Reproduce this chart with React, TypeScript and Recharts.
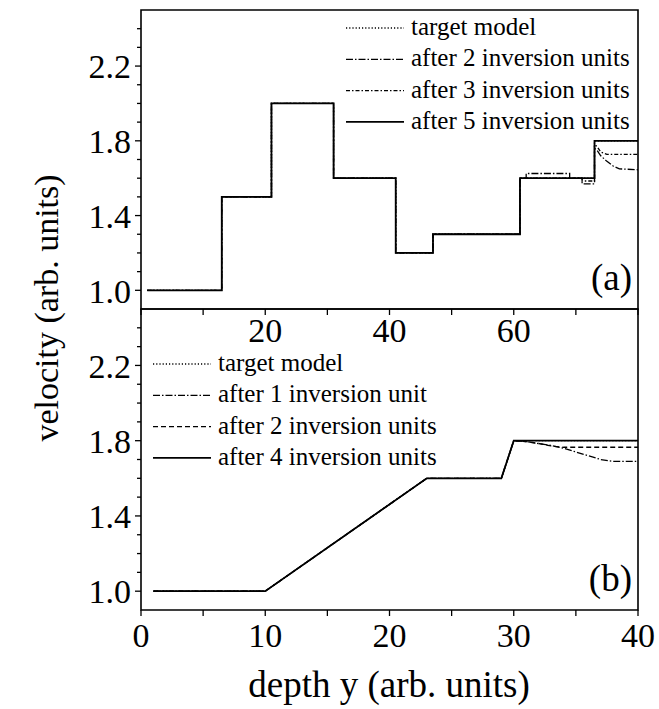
import React from "react";
import { LineChart, Line, XAxis, YAxis, ReferenceArea, Label, Legend } from "recharts";

// panel (a): step model, depth 0..80
const edgesA = [1, 13, 21, 31, 41, 47, 61, 73, 80];
const levelsA = [1.0, 1.5, 2.0, 1.6, 1.2, 1.3, 1.6, 1.8];

const depthA2 = [1, 13, 13, 21, 21, 31, 31, 41, 41, 47, 47, 61, 61, 62, 62, 69, 69, 71, 71, 73, 73, 73.4, 74, 75, 76, 77, 80];
const velA2 = [1.0, 1.0, 1.5, 1.5, 2.0, 2.0, 1.6, 1.6, 1.2, 1.2, 1.3, 1.3, 1.6, 1.6, 1.625, 1.625, 1.6, 1.6, 1.57, 1.57, 1.76, 1.75, 1.72, 1.69, 1.665, 1.65, 1.645];

const depthA3 = [1, 13, 13, 21, 21, 31, 31, 41, 41, 47, 47, 61, 61, 71, 71, 73, 73, 73.4, 74, 75, 80];
const velA3 = [1.0, 1.0, 1.5, 1.5, 2.0, 2.0, 1.6, 1.6, 1.2, 1.2, 1.3, 1.3, 1.6, 1.6, 1.585, 1.585, 1.78, 1.77, 1.74, 1.727, 1.727];

// panel (b): ramp model, depth 0..40
const depthB = [1, 10, 23, 29, 30, 40];
const targetB = [1.0, 1.0, 1.6, 1.6, 1.8, 1.8];

const depthB1 = [1, 10, 23, 29, 30, 31, 32, 33, 34, 35, 36, 37, 38, 40];
const velB1 = [1.0, 1.0, 1.6, 1.6, 1.8, 1.795, 1.785, 1.775, 1.76, 1.74, 1.72, 1.7, 1.69, 1.69];

const depthB2 = [1, 10, 23, 29, 30, 31, 32, 33, 34, 40];
const velB2 = [1.0, 1.0, 1.6, 1.6, 1.8, 1.795, 1.785, 1.772, 1.765, 1.765];

const yTicks = [1.0, 1.1, 1.2, 1.3, 1.4, 1.5, 1.6, 1.7, 1.8, 1.9, 2.0, 2.1, 2.2, 2.3, 2.4];
const yLabels = [1.0, 1.4, 1.8, 2.2];
const xTicksA = [0, 10, 20, 30, 40, 50, 60, 70, 80];
const xLabelsA = [20, 40, 60];
const xTicksB = [0, 5, 10, 15, 20, 25, 30, 35, 40];
const xLabelsB = [0, 10, 20, 30, 40];

const legendA = ["target model", "after 2 inversion units", "after 3 inversion units", "after 5 inversion units"];
const legendB = ["target model", "after 1 inversion unit", "after 2 inversion units", "after 4 inversion units"];

const font = "'Liberation Serif', 'Times New Roman', serif";

const stepPoints = (edges: number[], levels: number[]) => {
  const pts: { x: number; v: number }[] = [];
  levels.forEach((lv, i) => {
    pts.push({ x: edges[i], v: lv });
    pts.push({ x: edges[i + 1], v: lv });
  });
  return pts;
};
const zip = (xs: number[], vs: number[]) => xs.map((x, i) => ({ x, v: vs[i] }));

const dataA0 = stepPoints(edgesA, levelsA);
const dataA2 = zip(depthA2, velA2);
const dataA3 = zip(depthA3, velA3);
const dataB0 = zip(depthB, targetB);
const dataB1 = zip(depthB1, velB1);
const dataB2 = zip(depthB2, velB2);

const near = (list: number[], v: number) => list.some((l) => Math.abs(l - v) < 1e-6);

const YTick = (props: any) => {
  const { x, y, payload } = props;
  const lab = near(yLabels, payload.value);
  return (
    <g>
      <line x1={x} x2={x - (lab ? 6 : 4)} y1={y} y2={y} stroke="#000" strokeWidth={1.3} />
      {lab && (
        <text x={x - 10} y={y} dy="0.36em" textAnchor="end" fontSize={34} fontFamily={font} fill="#000">
          {payload.value.toFixed(1)}
        </text>
      )}
    </g>
  );
};

const makeXTick = (labels: number[], dy: number) => (props: any) => {
  const { x, y, payload } = props;
  return (
    <g>
      <line x1={x} x2={x} y1={y} y2={y + 6} stroke="#000" strokeWidth={1.3} />
      {near(labels, payload.value) && (
        <text x={x} y={y + dy} textAnchor="middle" fontSize={34} fontFamily={font} fill="#000">
          {payload.value}
        </text>
      )}
    </g>
  );
};

const dashes = ["1.2 2", "7 2 1.5 2", "4 2 1.5 2", ""];
const dashesB = ["1.2 2", "7 2 1.5 2", "5 3", ""];

const LegendBox = ({ items, pat }: { items: string[]; pat: string[] }) => (
  <svg width={310} height={130}>
    {items.map((t, i) => (
      <g key={t}>
        <line x1={6} x2={64} y1={18 + i * 31.3} y2={18 + i * 31.3} stroke="#000"
          strokeWidth={pat[i] ? 1.3 : 1.8} strokeDasharray={pat[i] || undefined} />
        <text x={71} y={18 + i * 31.3 + 7} fontSize={25} fontFamily={font} fill="#000">{t}</text>
      </g>
    ))}
  </svg>
);

const PanelTag = (txt: string) => (props: any) => {
  const vb = props.viewBox;
  return (
    <text x={vb.x + vb.width - 6} y={vb.y + vb.height - 19} textAnchor="end" fontSize={37} fontFamily={font} fill="#000">
      {txt}
    </text>
  );
};

const W = 659;
const H = 709;

export default function App() {
  return (
    <div style={{ position: "absolute", left: 0, top: 0, width: W, height: H, background: "#fff" }}>
      <div style={{ position: "absolute", left: 0, top: 0 }}>
        <LineChart width={W} height={H} margin={{ top: 10, right: 21, bottom: 360, left: 0 }}>
          <XAxis dataKey="x" type="number" domain={[0, 80]} ticks={xTicksA} interval={0} height={40}
            axisLine={false} tickLine={false} tickSize={0} tickMargin={0} tick={makeXTick(xLabelsA, 33)} allowDuplicatedCategory />
          <YAxis type="number" domain={[0.9, 2.5]} ticks={yTicks} interval={0} width={141}
            axisLine={false} tickLine={false} tickSize={0} tickMargin={0} tick={<YTick />} />
          <ReferenceArea x1={0} x2={80} y1={0.9} y2={2.5} fill="none" stroke="#000" strokeWidth={1.6} ifOverflow="visible">
            <Label content={PanelTag("(a)")} />
          </ReferenceArea>
          <Legend layout="vertical" align="center" verticalAlign="middle"
            wrapperStyle={{ left: 340, top: 10, width: 310 }}
            content={() => <LegendBox items={legendA} pat={dashes} />} />
          <Line data={dataA0} dataKey="v" name="target model" type="linear" stroke="#000" strokeWidth={1.3} strokeDasharray={dashes[0]} dot={false} isAnimationActive={false} />
          <Line data={dataA2} dataKey="v" name="after 2 inversion units" type="linear" stroke="#000" strokeWidth={1.3} strokeDasharray={dashes[1]} dot={false} isAnimationActive={false} />
          <Line data={dataA3} dataKey="v" name="after 3 inversion units" type="linear" stroke="#000" strokeWidth={1.3} strokeDasharray={dashes[2]} dot={false} isAnimationActive={false} />
          <Line data={dataA0} dataKey="v" name="after 5 inversion units" type="linear" stroke="#000" strokeWidth={1.8} dot={false} isAnimationActive={false} />
        </LineChart>
      </div>
      <div style={{ position: "absolute", left: 0, top: 0 }}>
        <LineChart width={W} height={H} margin={{ top: 309, right: 21, bottom: 59, left: 0 }}>
          <XAxis dataKey="x" type="number" domain={[0, 40]} ticks={xTicksB} interval={0} height={40}
            axisLine={false} tickLine={false} tickSize={0} tickMargin={0} tick={makeXTick(xLabelsB, 37)} allowDuplicatedCategory />
          <YAxis type="number" domain={[0.9, 2.5]} ticks={yTicks} interval={0} width={141}
            axisLine={false} tickLine={false} tickSize={0} tickMargin={0} tick={<YTick />} />
          <ReferenceArea x1={0} x2={40} y1={0.9} y2={2.5} fill="none" stroke="#000" strokeWidth={1.6} ifOverflow="visible">
            <Label content={PanelTag("(b)")} />
          </ReferenceArea>
          <Legend layout="vertical" align="center" verticalAlign="middle"
            wrapperStyle={{ left: 147, top: 346, width: 310 }}
            content={() => <LegendBox items={legendB} pat={dashesB} />} />
          <Line data={dataB0} dataKey="v" name="target model" type="linear" stroke="#000" strokeWidth={1.3} strokeDasharray={dashesB[0]} dot={false} isAnimationActive={false} />
          <Line data={dataB1} dataKey="v" name="after 1 inversion unit" type="linear" stroke="#000" strokeWidth={1.3} strokeDasharray={dashesB[1]} dot={false} isAnimationActive={false} />
          <Line data={dataB2} dataKey="v" name="after 2 inversion units" type="linear" stroke="#000" strokeWidth={1.3} strokeDasharray={dashesB[2]} dot={false} isAnimationActive={false} />
          <Line data={dataB0} dataKey="v" name="after 4 inversion units" type="linear" stroke="#000" strokeWidth={1.8} dot={false} isAnimationActive={false} />
        </LineChart>
      </div>
      <svg width={W} height={H} style={{ position: "absolute", left: 0, top: 0, pointerEvents: "none" }}>
        <text x={46} y={308} transform="rotate(-90 46 308)" textAnchor="middle" dy="0.35em" fontSize={34} fontFamily={font} fill="#000">
          velocity (arb. units)
        </text>
        <text x={389} y={697} textAnchor="middle" fontSize={37} fontFamily={font} fill="#000">
          depth y (arb. units)
        </text>
      </svg>
    </div>
  );
}
